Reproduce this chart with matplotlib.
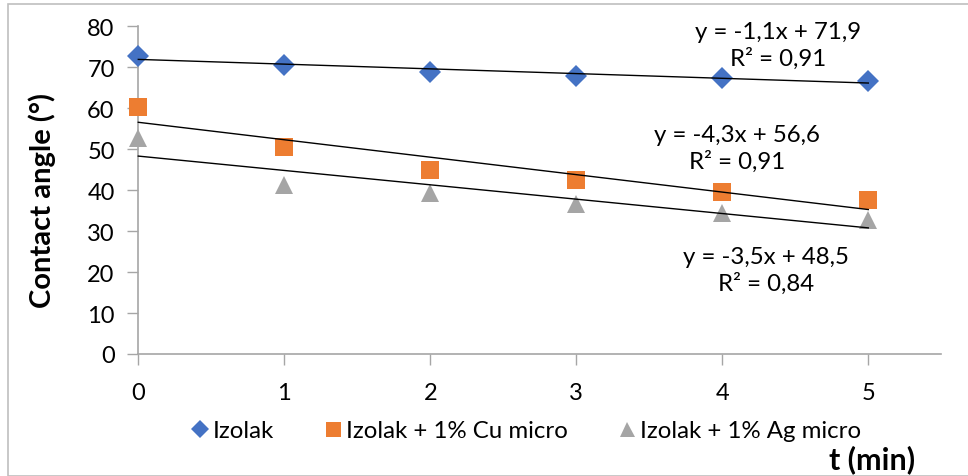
import matplotlib
matplotlib.use("Agg")
import matplotlib.pyplot as plt
import numpy as np
from matplotlib.patches import Rectangle

plt.rcParams['font.family'] = ['Lato', 'DejaVu Sans']

t = [0, 1, 2, 3, 4, 5]
izolak = [72.8, 70.5, 68.8, 67.9, 67.5, 66.7]
izolak_cu = [60.3, 50.6, 45.0, 42.4, 39.6, 37.6]
izolak_ag = [52.8, 41.2, 39.3, 36.7, 34.5, 32.8]
series_names = ["Izolak", "Izolak + 1% Cu micro", "Izolak + 1% Ag micro"]
eq_labels = ["y = -1,1x + 71,9\nR² = 0,91",
             "y = -4,3x + 56,6\nR² = 0,91",
             "y = -3,5x + 48,5\nR² = 0,84"]
yticks = [0, 10, 20, 30, 40, 50, 60, 70, 80]
xticks = [0, 1, 2, 3, 4, 5]

W, H = 968, 477
fig = plt.figure(figsize=(W / 100, H / 100), dpi=100)
ax = fig.add_axes([138.3 / W, 1 - 355 / H, (941.3 - 138.3) / W, (355 - 27.3) / H])

colors = ["#4472C4", "#ED7D31", "#A5A5A5"]
markers = ["D", "s", "^"]
msizes = [11.5, 13.5, 13.5]
data = [izolak, izolak_cu, izolak_ag]

handles = []
for ys, c, m, ms, name in zip(data, colors, markers, msizes, series_names):
    h, = ax.plot(t, ys, linestyle="none", marker=m, color=c, markersize=ms,
                 markeredgewidth=0, label=name, zorder=3, clip_on=False)
    handles.append(h)
    k, b = np.polyfit(t, ys, 1)
    xs = np.array([t[0], t[-1]])
    ax.plot(xs, k * xs + b, color="black", lw=1.0, zorder=4, clip_on=False)

eq_pos = [(778, 46), (737, 149), (766, 271)]
for (px, py), txt in zip(eq_pos, eq_labels):
    fig.text(px / W, 1 - py / H, txt, ha="center", va="center", fontsize=17.3,
             linespacing=1.3)

ax.set_xlim(0, 5.5)
ax.set_ylim(0, 80)
ax.set_xticks(xticks)
ax.set_yticks(yticks)
ax.tick_params(axis="both", labelsize=17, color="#a6a6a6", length=8, width=1)
ax.tick_params(axis="x", pad=12)
ax.tick_params(axis="y", pad=9)
for s in ["top", "right"]:
    ax.spines[s].set_visible(False)
for s in ["left", "bottom"]:
    ax.spines[s].set_color("#a6a6a6")
    ax.spines[s].set_linewidth(1.2)

fig.text(42 / W, 1 - 201 / H, "Contact angle (°)", rotation=90, ha="center",
         va="center", fontsize=21, fontweight="bold")
fig.text(872 / W, 1 - 460 / H, "t (min)", ha="center", va="center",
         fontsize=22, fontweight="bold")

fig.legend(handles=handles, labels=series_names, loc="center",
           bbox_to_anchor=(524 / W, 1 - 432 / H), ncol=3, frameon=False,
           fontsize=17.3, handletextpad=0.0, columnspacing=1.9, handlelength=1.1,
           markerscale=0.8)

fig.patches.append(Rectangle((8 / W, 0), 1.0, 1 - 5 / H, transform=fig.transFigure,
                             fill=False, edgecolor="#bfbfbf", lw=1.2))

fig.savefig("out.png", dpi=100)
